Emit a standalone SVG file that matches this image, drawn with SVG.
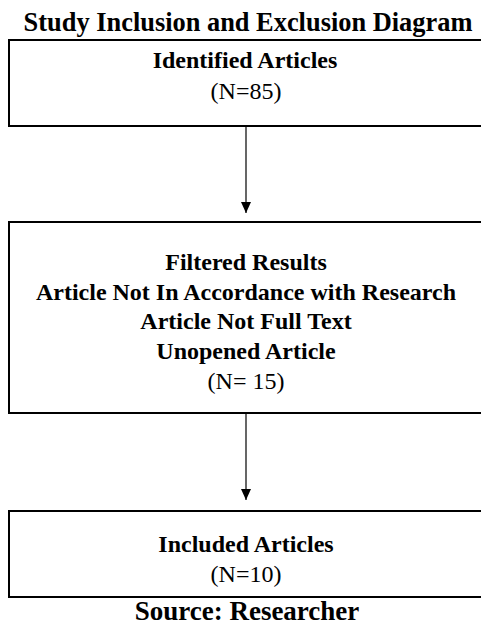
<svg xmlns="http://www.w3.org/2000/svg" width="481" height="625" viewBox="0 0 481 625">
<defs>
<style>
.box{fill:#fff;stroke:#000;stroke-width:2}
.t{font-family:"Liberation Serif","Times New Roman",serif;fill:#000;text-anchor:middle}
.b{font-weight:bold}
.n{font-size:24px}
.edge{stroke:#000;stroke-width:1.2;fill:none}
</style>
<marker id="arr" markerWidth="11" markerHeight="10" refX="11" refY="5" orient="auto" markerUnits="userSpaceOnUse" viewBox="0 0 11 10">
<path d="M0,0 L11,5 L0,10 Z" fill="#000"/>
</marker>
</defs>
<rect width="481" height="625" fill="#fff"/>
<text class="t b" x="248" y="31" font-size="26.4">Study Inclusion and Exclusion Diagram</text>
<g id="connectors">
<line class="edge" x1="246" y1="126" x2="246" y2="213" marker-end="url(#arr)"/>
<line class="edge" x1="246" y1="413" x2="246" y2="500" marker-end="url(#arr)"/>
</g>
<g id="identified">
<rect class="box" x="9" y="40" width="480" height="86"/>
<text class="t b n" x="245" y="68">Identified Articles</text>
<text class="t n" x="246" y="99">(N=85)</text>
</g>
<g id="filtered">
<rect class="box" x="9" y="222" width="480" height="191"/>
<text class="t b n" x="246" y="270">Filtered Results</text>
<text class="t b n" x="246" y="300">Article Not In Accordance with Research</text>
<text class="t b n" x="246" y="329">Article Not Full Text</text>
<text class="t b n" x="246" y="359">Unopened Article</text>
<text class="t n" x="246" y="389">(N= 15)</text>
</g>
<g id="included">
<rect class="box" x="9" y="511" width="480" height="86"/>
<text class="t b n" x="246" y="552">Included Articles</text>
<text class="t n" x="246" y="582">(N=10)</text>
</g>
<text class="t b" x="247" y="620" font-size="27">Source: Researcher</text>
</svg>
